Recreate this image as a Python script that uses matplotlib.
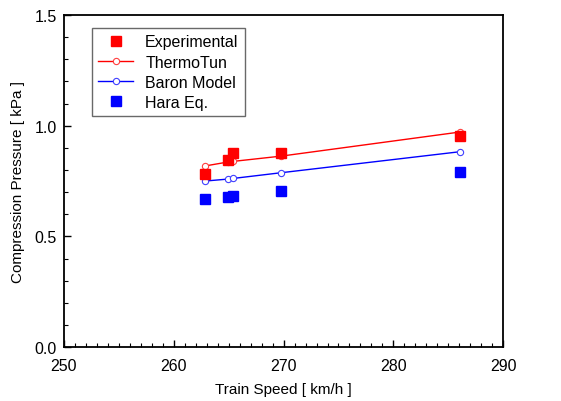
import matplotlib
matplotlib.use("Agg")
import matplotlib.pyplot as plt
from matplotlib.ticker import MultipleLocator

plt.rcParams['font.family'] = ['Liberation Sans', 'DejaVu Sans']

speed = [262.8, 264.9, 265.4, 269.8, 286.1]
experimental = [0.780, 0.844, 0.875, 0.875, 0.953]
thermotun = [0.818, 0.836, 0.839, 0.863, 0.972]
baron = [0.750, 0.759, 0.762, 0.788, 0.883]
hara = [0.671, 0.680, 0.682, 0.705, 0.791]

fig = plt.figure(figsize=(5.61, 4.02), dpi=100)
ax = fig.add_axes([0.114, 0.134, 0.783, 0.826])

ax.plot(speed, experimental, 's', color='#ff0000', ms=7.5, label='Experimental', zorder=3)
ax.plot(speed, thermotun, '-o', color='#ff0000', lw=1, ms=4.5, mfc='white',
        mec='#ff4040', mew=0.8, label='ThermoTun', zorder=2)
ax.plot(speed, baron, '-o', color='#0000ff', lw=1, ms=4.5, mfc='white',
        mec='#4040ff', mew=0.8, label='Baron Model', zorder=2)
ax.plot(speed, hara, 's', color='#0000ff', ms=7.5, label='Hara Eq.', zorder=3)

ax.set_xlim(250, 290)
ax.set_ylim(0, 1.5)
ax.xaxis.set_major_locator(MultipleLocator(10))
ax.xaxis.set_minor_locator(MultipleLocator(1))
ax.yaxis.set_major_locator(MultipleLocator(0.5))
ax.yaxis.set_minor_locator(MultipleLocator(0.1))
ax.yaxis.set_major_formatter(matplotlib.ticker.FormatStrFormatter('%.1f'))
ax.tick_params(which='both', direction='in', top=False, right=False, labelsize=11.5)
ax.tick_params(axis='x', which='major', pad=8)
ax.tick_params(axis='y', which='major', pad=5)
ax.tick_params(which='major', length=5, width=1)
ax.tick_params(which='minor', length=3, width=0.8)
for s in ax.spines.values():
    s.set_linewidth(1.3)

ax.set_xlabel('Train Speed [ km/h ]', fontsize=11, labelpad=6)
ax.set_ylabel('Compression Pressure [ kPa ]', fontsize=11, labelpad=7)

leg = ax.legend(loc='upper left', bbox_to_anchor=(0.045, 0.985), fontsize=11.5,
                frameon=True, fancybox=False, edgecolor='#444444',
                handlelength=2.2, handletextpad=0.75, borderpad=0.4,
                labelspacing=0.32)
leg.get_frame().set_linewidth(1)

fig.savefig('out.png', dpi=100)
